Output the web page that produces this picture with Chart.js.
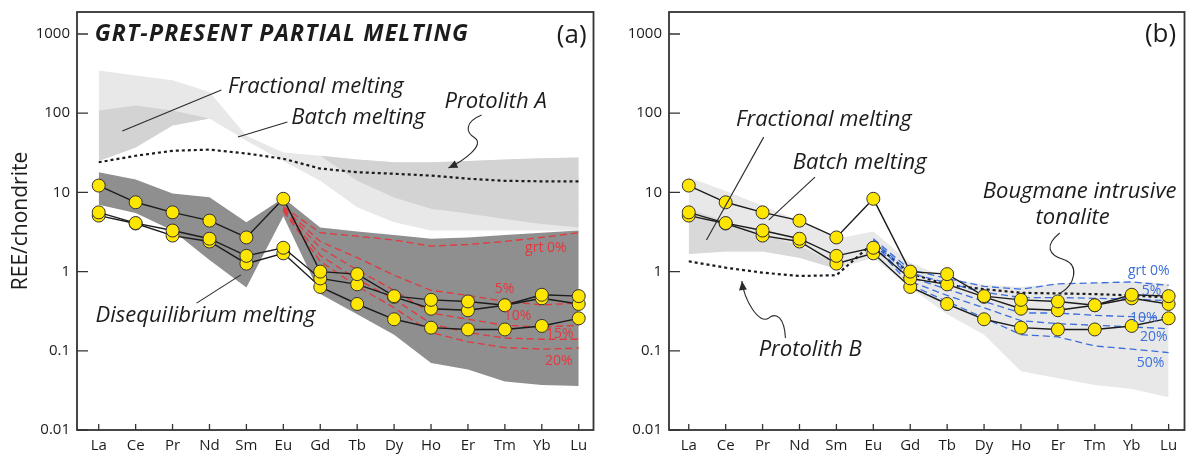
<!DOCTYPE html>
<html>
<head>
<meta charset="utf-8">
<script src="https://cdn.jsdelivr.net/npm/chart.js@4.4.1/dist/chart.umd.min.js"></script>
<style>
    html, body { margin: 0; padding: 0; background: #fff; }
    #wrap { position: relative; width: 1192px; height: 456px; overflow: hidden; }
    .panel { position: absolute; top: 0; }
    #pa { left: 0; }
    #pb { left: 600px; }
</style>
</head>
<body>
<div id="wrap">
    <div class="panel" id="pa"><canvas id="chartA" width="601" height="456"></canvas></div>
    <div class="panel" id="pb"><canvas id="chartB" width="592" height="456"></canvas></div>
</div>
<script>
// ---- data (chondrite-normalised REE) ----
const ree = ['La', 'Ce', 'Pr', 'Nd', 'Sm', 'Eu', 'Gd', 'Tb', 'Dy', 'Ho', 'Er', 'Tm', 'Yb', 'Lu'];
const yTicks = [0.01, 0.1, 1, 10, 100, 1000];
const yTickLabels = ['0.01', '0.1', '1', '10', '100', '1000'];

// Bougmane tonalite samples
const sample1 = [12.2, 7.5, 5.6, 4.4, 2.7, 8.3, 1.0, 0.93, 0.49, 0.44, 0.42, 0.376, 0.51, 0.49];
const sample2 = [5.6, 4.1, 3.3, 2.6, 1.58, 2.0, 0.82, 0.69, 0.48, 0.34, 0.325, 0.376, 0.46, 0.39];
const sample3 = [5.1, 4.05, 2.85, 2.4, 1.26, 1.7, 0.64, 0.39, 0.25, 0.196, 0.186, 0.186, 0.206, 0.257];

// panel (a) - protolith A models
const protolithA = [24, 29, 33.5, 34.7, 31, 26.6, 20, 18, 17.2, 16.3, 14.9, 14, 13.8, 13.8];
const fracATop = [347, 300, 260, 185, 52, 32, 29, 26, 24, 24, 25, 26, 27, 27.5];
const fracABottom = [25, 37, 70, 86, 45, 25, 14, 6.5, 4.2, 3.3, 3.3, 3.3, 3.3, 3.3];
const batchALreeTop = [108, 125, 108, 86];          // La-Nd
const batchALreeBottom = [25, 37, 70, 86];
const batchAHreeTop = [29, 26, 24, 24, 25, 26, 27, 27.5];   // Gd-Lu
const batchAHreeBottom = [29, 14, 8.6, 6.2, 5.4, 4.6, 4.0, 3.6];
const diseqTop = [18, 14.5, 9.7, 8.7, 4.2, 8.5, 3.6, 3.2, 2.9, 2.6, 2.7, 2.9, 3.1, 3.3];
const diseqBottom = [7, 5.5, 3.3, 1.4, 0.63, 5, 0.52, 0.29, 0.16, 0.07, 0.058, 0.041, 0.037, 0.036];
// garnet curves, Eu-Lu
const grtA0 = [6.6, 3.1, 2.8, 2.5, 2.1, 2.2, 2.4, 2.7, 3.1];
const grtA5 = [6.4, 2.4, 1.5, 0.9, 0.58, 0.5, 0.42, 0.38, 0.4];
const grtA10 = [6.2, 2.0, 1.05, 0.58, 0.3, 0.25, 0.21, 0.2, 0.21];
const grtA15 = [6.0, 1.6, 0.8, 0.45, 0.22, 0.17, 0.145, 0.14, 0.14];
const grtA20 = [5.8, 1.35, 0.65, 0.35, 0.17, 0.13, 0.11, 0.105, 0.108];

// panel (b) - protolith B models
const protolithB = [1.35, 1.12, 0.97, 0.88, 0.9, 2.3, 0.95, 0.68, 0.6, 0.54, 0.53, 0.52, 0.5, 0.47];
const meltBTop = [15.5, 10.4, 6.8, 4.4, 2.6, 3.2, 1.3, 0.82, 0.68, 0.64, 0.7, 0.72, 0.75, 0.7];
const meltBBottom = [1.67, 1.8, 1.8, 1.5, 1.08, 1.5, 0.63, 0.29, 0.16, 0.055, 0.045, 0.037, 0.033, 0.026];
const batchBTop = [6.2, 4.3, 3.0, 2.1, 1.25];       // La-Sm
const batchBBottom = [1.67, 1.8, 1.8, 1.5, 1.08];
const grtB0 = [2.6, 1.05, 0.82, 0.65, 0.6, 0.7, 0.72, 0.74, 0.67];
const grtB5 = [2.5, 0.95, 0.72, 0.55, 0.47, 0.47, 0.46, 0.45, 0.43];
const grtB10 = [2.4, 0.85, 0.6, 0.42, 0.3, 0.3, 0.28, 0.27, 0.26];
const grtB20 = [2.3, 0.75, 0.5, 0.35, 0.24, 0.22, 0.21, 0.2, 0.19];
const grtB50 = [2.2, 0.68, 0.42, 0.26, 0.16, 0.15, 0.115, 0.105, 0.095];

// ---- styles ----
const FONT = '"Open Sans", "Noto Sans", sans-serif';
const INK = '#1c1c1c';
const RED = '#e3383e';
const BLUE = '#3c6fdc';
const LIGHT = '#e8e8e8';
const MEDIUM = '#d3d3d3';
const DARK = '#8f8f8f';

const pts = (vals, start = 0) => vals.map((v, i) => ({ x: start + i, y: v }));

function band(top, bottom, color, order, start = 0) {
    const base = { borderColor: 'rgba(0,0,0,0)', borderWidth: 0, pointRadius: 0, order };
    return [
        { ...base, data: pts(top, start), backgroundColor: color, fill: '+1' },
        { ...base, data: pts(bottom, start), fill: false }
    ];
}

function dotted(vals) {
    return { data: pts(vals), borderColor: INK, borderWidth: 2.2, borderDash: [3, 3], pointRadius: 0, fill: false, order: 6 };
}

function model(vals, color) {
    return { data: pts(vals, 5), borderColor: color, borderWidth: 1.3, borderDash: [7, 4], pointRadius: 0, fill: false, order: 5 };
}

function samples() {
    return [sample1, sample2, sample3].map(s => ({
        data: pts(s),
        borderColor: INK,
        borderWidth: 1.4,
        pointRadius: 6.5,
        pointBackgroundColor: '#ffe600',
        pointBorderColor: '#333',
        pointBorderWidth: 1,
        fill: false,
        order: 1
    }));
}

// scales keep their own label padding out of the layout
function noPad(s) {
    s.paddingTop = 0;
    s.paddingBottom = 0;
    s.paddingLeft = 0;
    s.paddingRight = 0;
}

// frame + inward tick marks
const frame = {
    id: 'frame',
    afterDatasetsDraw(chart) {
        const { ctx, chartArea: a, scales } = chart;
        ctx.save();
        ctx.strokeStyle = '#333';
        ctx.lineWidth = 1.8;
        ctx.strokeRect(a.left, a.top, a.right - a.left, a.bottom - a.top);
        ctx.lineWidth = 1.3;
        ctx.beginPath();
        ree.forEach((_, i) => {
            const x = scales.x.getPixelForValue(i);
            ctx.moveTo(x, a.bottom);
            ctx.lineTo(x, a.bottom - 6);
        });
        yTicks.forEach(v => {
            const y = scales.y.getPixelForValue(v);
            ctx.moveTo(a.left, y);
            ctx.lineTo(a.left + 11, y);
        });
        ctx.stroke();
        ctx.restore();
    }
};

// text labels and leader lines, positioned in data units
function notes(cfg) {
    return {
        id: 'notes',
        afterDatasetsDraw(chart) {
            const { ctx, scales } = chart;
            const px = p => [scales.x.getPixelForValue(p[0]), scales.y.getPixelForValue(p[1])];
            ctx.save();
            ctx.strokeStyle = '#2a2a2a';
            ctx.fillStyle = '#2a2a2a';
            ctx.lineWidth = 1.1;
            cfg.curves.forEach(c => {
                const p = c.p.map(px);
                ctx.beginPath();
                ctx.moveTo(p[0][0], p[0][1]);
                if (p.length === 2) {
                    ctx.lineTo(p[1][0], p[1][1]);
                } else {
                    for (let i = 1; i + 2 < p.length; i += 3) {
                        ctx.bezierCurveTo(p[i][0], p[i][1], p[i + 1][0], p[i + 1][1], p[i + 2][0], p[i + 2][1]);
                    }
                }
                ctx.stroke();
                if (c.arrow) {
                    const e = p[p.length - 1], b = p[p.length - 2];
                    const ang = Math.atan2(e[1] - b[1], e[0] - b[0]);
                    ctx.beginPath();
                    ctx.moveTo(e[0], e[1]);
                    ctx.lineTo(e[0] - 9 * Math.cos(ang) + 4 * Math.sin(ang), e[1] - 9 * Math.sin(ang) - 4 * Math.cos(ang));
                    ctx.lineTo(e[0] - 9 * Math.cos(ang) - 4 * Math.sin(ang), e[1] - 9 * Math.sin(ang) + 4 * Math.cos(ang));
                    ctx.closePath();
                    ctx.fill();
                }
            });
            ctx.textBaseline = 'middle';
            cfg.texts.forEach(t => {
                const [x, y] = px([t.x, t.y]);
                ctx.font = t.font;
                ctx.fillStyle = t.color || INK;
                ctx.textAlign = t.align || 'center';
                ctx.letterSpacing = t.spacing || '0px';
                ctx.fillText(t.t, x, y);
            });
            ctx.restore();
        }
    };
}

const ITAL = 'italic 22px ' + FONT;
const SMALL = '14px ' + FONT;

const notesA = {
    texts: [
        { t: 'GRT-PRESENT PARTIAL MELTING', x: -0.11, y: 1000, font: 'italic bold 23px ' + FONT, align: 'left', spacing: '1.2px' },
        { t: '(a)', x: 12.81, y: 944, font: '26px ' + FONT },
        { t: 'Fractional melting', x: 5.88, y: 214, font: ITAL },
        { t: 'Batch melting', x: 7.03, y: 86.7, font: ITAL },
        { t: 'Protolith A', x: 10.75, y: 138, font: ITAL },
        { t: 'Disequilibrium melting', x: 2.89, y: 0.275, font: ITAL },
        { t: 'grt 0%', x: 12.11, y: 1.99, font: SMALL, color: RED },
        { t: '5%', x: 10.99, y: 0.603, font: SMALL, color: RED },
        { t: '10%', x: 11.34, y: 0.275, font: SMALL, color: RED },
        { t: '15%', x: 12.49, y: 0.162, font: SMALL, color: RED },
        { t: '20%', x: 12.46, y: 0.074, font: SMALL, color: RED }
    ],
    curves: [
        { p: [[0.64, 59.6], [3.32, 196]] },
        { p: [[3.77, 50], [5.11, 77.4]] },
        { p: [[2.65, 0.4], [3.85, 0.91]] },
        { p: [[10.37, 94.6], [9.92, 77.4], [9.92, 57.9], [10.19, 48.6], [10.45, 39.7], [9.92, 25.6], [9.47, 20.3]], arrow: true }
    ]
};

const notesB = {
    texts: [
        { t: '(b)', x: 12.78, y: 970, font: '26px ' + FONT },
        { t: 'Fractional melting', x: 3.66, y: 82, font: ITAL },
        { t: 'Batch melting', x: 4.63, y: 23.5, font: ITAL },
        { t: 'Bougmane intrusive', x: 10.59, y: 10.1, font: ITAL },
        { t: 'tonalite', x: 10.4, y: 4.75, font: ITAL },
        { t: 'Protolith B', x: 3.29, y: 0.102, font: ITAL },
        { t: 'grt 0%', x: 12.46, y: 1.02, font: SMALL, color: BLUE },
        { t: '5%', x: 12.54, y: 0.57, font: SMALL, color: BLUE },
        { t: '10%', x: 12.33, y: 0.26, font: SMALL, color: BLUE },
        { t: '20%', x: 12.6, y: 0.15, font: SMALL, color: BLUE },
        { t: '50%', x: 12.51, y: 0.07, font: SMALL, color: BLUE }
    ],
    curves: [
        { p: [[2.03, 49.9], [0.48, 2.5]] },
        { p: [[3.42, 15.6], [2.17, 4.5]] },
        { p: [[10.05, 3.07], [9.65, 2.17], [9.71, 1.62], [10.19, 1.4], [10.59, 1.18], [10.45, 0.68], [10.08, 0.54]] },
        { p: [[2.62, 0.145], [2.59, 0.26], [2.38, 0.31], [2.17, 0.26], [1.9, 0.21], [1.5, 0.44], [1.44, 0.76]], arrow: true }
    ]
};

function makeChart(id, axisWidth, xMin, xMax, datasets, cfg, showTitle) {
    return new Chart(document.getElementById(id), {
        type: 'line',
        data: { datasets },
        options: {
            responsive: false,
            animation: false,
            layout: { padding: { top: 12, right: 1, left: 0, bottom: 0 } },
            elements: { line: { tension: 0 } },
            plugins: { legend: { display: false }, tooltip: { enabled: false } },
            scales: {
                x: {
                    type: 'linear',
                    min: xMin,
                    max: xMax,
                    afterBuildTicks: s => { s.ticks = ree.map((_, i) => ({ value: i })); },
                    afterFit: s => { s.height = 26; noPad(s); },
                    grid: { display: false, drawTicks: false },
                    border: { display: false },
                    ticks: {
                        autoSkip: false,
                        maxRotation: 0,
                        padding: 7,
                        color: INK,
                        font: { family: FONT, size: 15 },
                        callback: v => ree[v]
                    }
                },
                y: {
                    type: 'logarithmic',
                    min: 0.01,
                    max: 1896,
                    afterBuildTicks: s => { s.ticks = yTicks.map(v => ({ value: v })); },
                    afterFit: s => { s.width = axisWidth; noPad(s); },
                    grid: { display: false, drawTicks: false },
                    border: { display: false },
                    ticks: {
                        padding: 7,
                        color: INK,
                        font: { family: FONT, size: 15 },
                        callback: v => yTickLabels[yTicks.indexOf(v)] ?? ''
                    },
                    title: {
                        display: showTitle,
                        text: 'REE/chondrite',
                        color: INK,
                        font: { family: FONT, size: 21 },
                        padding: { top: 8, bottom: 0 }
                    }
                }
            }
        },
        plugins: [frame, notes(cfg)]
    });
}

makeChart('chartA', 77, -0.588, 13.4, [
    ...band(fracATop, fracABottom, LIGHT, 14),
    ...band(batchALreeTop, batchALreeBottom, MEDIUM, 13),
    ...band(batchAHreeTop, batchAHreeBottom, MEDIUM, 13, 6),
    ...band(diseqTop, diseqBottom, DARK, 12),
    dotted(protolithA),
    model(grtA0, RED), model(grtA5, RED), model(grtA10, RED), model(grtA15, RED), model(grtA20, RED),
    ...samples()
], notesA, true);

makeChart('chartB', 69, -0.535, 13.43, [
    ...band(meltBTop, meltBBottom, LIGHT, 14),
    ...band(batchBTop, batchBBottom, '#d9d9d9', 13),
    dotted(protolithB),
    model(grtB0, BLUE), model(grtB5, BLUE), model(grtB10, BLUE), model(grtB20, BLUE), model(grtB50, BLUE),
    ...samples()
], notesB, false);
</script>
</body>
</html>
